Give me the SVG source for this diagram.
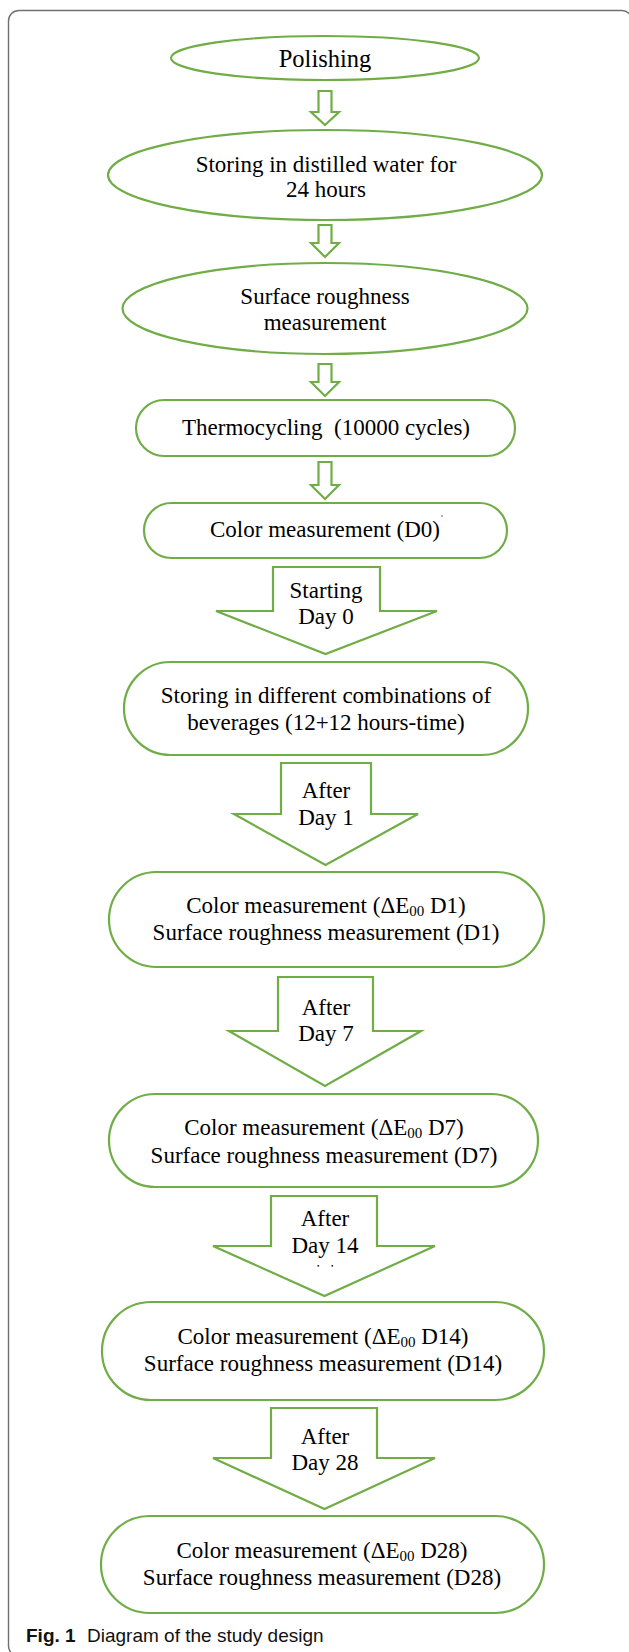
<svg xmlns="http://www.w3.org/2000/svg" width="629" height="1652" viewBox="0 0 629 1652">
<style>
.s{fill:#fff;stroke:#70ad47;stroke-width:2.2;stroke-linejoin:miter}
.t{font-family:"Liberation Serif","Times New Roman",serif;font-size:23px;fill:#000;text-anchor:middle}
.sub{font-size:15px}
.frame{fill:none;stroke:#707070;stroke-width:1.4}
.cap{font-family:"Liberation Sans",Arial,sans-serif;font-size:19px;fill:#111}
</style>
<rect width="629" height="1652" fill="#fff"/>
<path class="frame" d="M8.5 1646 V21 A10.5 10.5 0 0 1 19 10.5 H622 A10 10 0 0 1 632 20.5 M8.5 1646 A10 10 0 0 0 18.5 1656"/>

<g id="connectors">
  <path id="a1" class="s" d="M318.5 91 H331.5 V112 H339 L325 125 L311 112 H318.5 Z"/>
  <path id="a2" class="s" d="M318.5 225 H331.5 V243 H339 L325 257 L311 243 H318.5 Z"/>
  <path id="a3" class="s" d="M318.5 364 H331.5 V382 H339 L325 396 L311 382 H318.5 Z"/>
  <path id="a4" class="s" d="M318.5 462 H331.5 V485 H339 L325 499 L311 485 H318.5 Z"/>
  <g id="a5"><path class="s" d="M273 567 H380 V611 H437 L325.5 654 L216 611 H273 Z"/>
    <text class="t" x="326" y="598">Starting</text><text class="t" x="326" y="624">Day 0</text></g>
  <g id="a6"><path class="s" d="M281 763 H371 V814 H418 L325.5 865 L234 814 H281 Z"/>
    <text class="t" x="326" y="798">After</text><text class="t" x="326" y="825">Day 1</text></g>
  <g id="a7"><path class="s" d="M278 977 H373 V1031 H421 L325 1086 L229 1031 H278 Z"/>
    <text class="t" x="326" y="1015">After</text><text class="t" x="326" y="1041">Day 7</text></g>
  <g id="a8"><path class="s" d="M271 1196 H377 V1246 H435 L324.5 1296 L213 1246 H271 Z"/>
    <text class="t" x="325" y="1226">After</text><text class="t" x="325" y="1253">Day 14</text>
    <rect x="317.5" y="1265" width="1.6" height="1.6" fill="#222"/><rect x="331.5" y="1265" width="1.6" height="1.6" fill="#222"/></g>
  <g id="a9"><path class="s" d="M271 1408 H377 V1458 H435 L324.5 1509 L213 1458 H271 Z"/>
    <text class="t" x="325" y="1444">After</text><text class="t" x="325" y="1470">Day 28</text></g>
</g>

<g id="n1"><ellipse class="s" cx="325" cy="58" rx="154" ry="22"/>
  <text class="t" x="325" y="67" style="font-size:24.5px">Polishing</text></g>
<g id="n2"><ellipse class="s" cx="325" cy="175" rx="217" ry="45"/>
  <text class="t" x="326" y="172">Storing in distilled water for</text>
  <text class="t" x="326" y="197">24 hours</text></g>
<g id="n3"><ellipse class="s" cx="325" cy="308.5" rx="202.5" ry="45.5"/>
  <text class="t" x="325" y="304">Surface roughness</text>
  <text class="t" x="325" y="330">measurement</text></g>
<g id="n4"><rect class="s" x="136" y="400" width="379" height="56" rx="28" ry="28"/>
  <text class="t" x="326" y="435" xml:space="preserve">Thermocycling  (10000 cycles)</text></g>
<g id="n5"><rect class="s" x="144" y="503" width="363" height="55" rx="27.5" ry="27.5"/>
  <text class="t" x="325" y="537">Color measurement (D0)</text>
  <circle cx="442" cy="516" r="0.8" fill="#555"/></g>
<g id="n6"><rect class="s" x="124" y="662" width="404" height="93" rx="46.5" ry="46.5"/>
  <text class="t" x="326" y="703">Storing in different combinations of</text>
  <text class="t" x="326" y="730">beverages (12+12 hours-time)</text></g>
<g id="n7"><rect class="s" x="109" y="872" width="435" height="95" rx="47.5" ry="47.5"/>
  <text class="t" x="326" y="913">Color measurement (ΔE<tspan class="sub" dy="3">00</tspan><tspan dy="-3"> D1)</tspan></text>
  <text class="t" x="326" y="940">Surface roughness measurement (D1)</text></g>
<g id="n8"><rect class="s" x="109" y="1094" width="429" height="93" rx="46.5" ry="46.5"/>
  <text class="t" x="324" y="1135">Color measurement (ΔE<tspan class="sub" dy="3">00</tspan><tspan dy="-3"> D7)</tspan></text>
  <text class="t" x="324" y="1163">Surface roughness measurement (D7)</text></g>
<g id="n9"><rect class="s" x="102" y="1302" width="442" height="98" rx="49" ry="49"/>
  <text class="t" x="323" y="1344">Color measurement (ΔE<tspan class="sub" dy="3">00</tspan><tspan dy="-3"> D14)</tspan></text>
  <text class="t" x="323" y="1371">Surface roughness measurement (D14)</text></g>
<g id="n10"><rect class="s" x="101" y="1516" width="443" height="97" rx="48.5" ry="48.5"/>
  <text class="t" x="322" y="1558">Color measurement (ΔE<tspan class="sub" dy="3">00</tspan><tspan dy="-3"> D28)</tspan></text>
  <text class="t" x="322" y="1585">Surface roughness measurement (D28)</text></g>

<text class="cap" x="26" y="1642"><tspan font-weight="bold">Fig. 1</tspan><tspan x="87">Diagram of the study design</tspan></text>
</svg>
